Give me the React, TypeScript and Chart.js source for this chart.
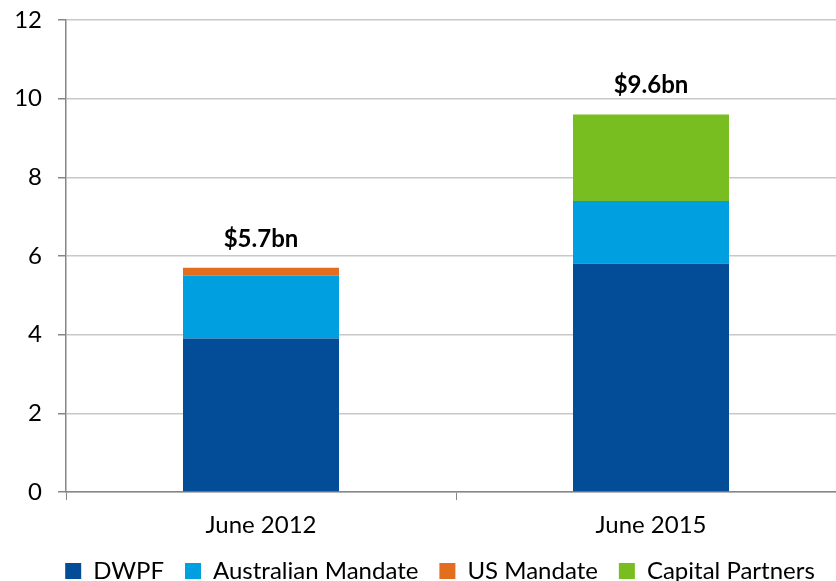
import React, { useEffect, useRef } from "react";
import { Chart, registerables } from "chart.js";

Chart.register(...registerables);

const categories = ["June 2012", "June 2015"];
const dwpf = [3.9, 5.8];
const australianMandate = [1.6, 1.6];
const usMandate = [0.2, 0];
const capitalPartners = [0, 2.2];
const yTicks = [0, 2, 4, 6, 8, 10, 12];

const FONT = "Lato, 'Open Sans', sans-serif";

const totalsPlugin = {
  id: "totals",
  afterLayout(chart: any) {
    const lg = chart.legend;
    if (lg) {
      lg.left += 17;
      lg.right += 17;
    }
  },
  afterDatasetsDraw(chart: any) {
    const { ctx } = chart;
    const y = chart.scales.y;
    const x = chart.scales.x;
    ctx.save();
    ctx.font = `bold 24px ${FONT}`;
    ctx.fillStyle = "#000";
    ctx.textAlign = "center";
    ctx.textBaseline = "alphabetic";
    categories.forEach((_, i) => {
      const total = dwpf[i] + australianMandate[i] + usMandate[i] + capitalPartners[i];
      const px = x.getPixelForValue(i);
      const py = y.getPixelForValue(total);
      ctx.fillText(`$${total.toFixed(1)}bn`, px, py - 21);
    });
    ctx.restore();
  },
};

export default function App() {
  const ref = useRef<HTMLCanvasElement | null>(null);
  useEffect(() => {
    if (!ref.current) return;
    const chart = new Chart(ref.current, {
      type: "bar",
      data: {
        labels: categories,
        datasets: [
          { label: "DWPF", data: dwpf, backgroundColor: "#034D98" },
          { label: "Australian Mandate", data: australianMandate, backgroundColor: "#009FDF" },
          { label: "US Mandate", data: usMandate, backgroundColor: "#E36E1F" },
          { label: "Capital Partners", data: capitalPartners, backgroundColor: "#78BE21" },
        ],
      },
      options: {
        animation: false,
        responsive: false,
        maintainAspectRatio: false,
        layout: { padding: { top: 20, left: 0, right: 0, bottom: 0 } },
        datasets: { bar: { barPercentage: 0.4, categoryPercentage: 1 } },
        plugins: {
          tooltip: { enabled: false },
          legend: {
            position: "bottom",
            labels: {
              font: { family: FONT, size: 24 },
              color: "#000",
              boxWidth: 16,
              boxHeight: 16,
              padding: 21,
            },
          },
        },
        scales: {
          x: {
            stacked: true,
            grid: {
              display: true,
              drawOnChartArea: false,
              tickLength: 8,
              color: "#868686",
              offset: true,
            },
            border: { color: "#868686", width: 1.5 },
            ticks: { font: { family: FONT, size: 24 }, color: "#000", padding: 11 },
            afterFit: (s: any) => {
              s.height = 46;
            },
          },
          y: {
            stacked: true,
            min: 0,
            max: 12,
            afterBuildTicks: (s: any) => {
              s.ticks = yTicks.map((v) => ({ value: v }));
            },
            grid: { color: "#C8C8C8", lineWidth: 1.5, tickLength: 8, tickColor: "#868686" },
            border: { color: "#868686", width: 1.5 },
            ticks: { font: { family: FONT, size: 24 }, color: "#000", padding: 16 },
            afterFit: (s: any) => {
              s.width = 66;
              s.paddingTop = 0;
              s.paddingBottom = 0;
            },
          },
        },
      },
      plugins: [totalsPlugin],
    });
    return () => chart.destroy();
  }, []);
  return (
    <div style={{ position: "fixed", left: 0, top: 0, width: 836, height: 581, overflow: "hidden", background: "#fff" }}>
      <canvas ref={ref} width={846} height={593} style={{ display: "block" }} />
    </div>
  );
}
